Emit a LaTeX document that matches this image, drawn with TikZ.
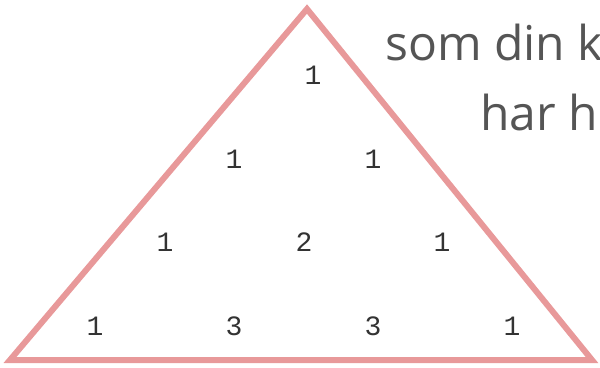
\documentclass[tikz,border=0pt]{standalone}
\usepackage{fontspec}
\setmainfont{Open Sans}
\setmonofont{Liberation Mono}
\usepackage{xcolor}
\definecolor{triedge}{HTML}{E8999A}
\definecolor{numgray}{HTML}{333333}
\definecolor{textgray}{HTML}{555555}

\begin{document}
\begin{tikzpicture}[
    x=1pt, y=-1pt,
    tri/.style={draw=triedge, line width=6pt},
    num/.style={font=\ttfamily\fontsize{28}{28}\selectfont, text=numgray, inner sep=0pt, anchor=base},
    caption/.style={font=\fontsize{48}{48}\selectfont, text=textgray, inner sep=0pt, anchor=base west}
  ]
    \useasboundingbox (0,0) rectangle (600,367);
    \clip (0,0) rectangle (600,367);
    % triangle
    \coordinate (top) at (307,9);
    \coordinate (left) at (10,360);
    \coordinate (right) at (592,360);
    \draw[tri] (top) -- (left) -- (right) -- cycle;
    % rows of numbers
    \node[num] (r1a) at (313,84) {1};
    \node[num] (r2a) at (234,168) {1};
    \node[num] (r2b) at (373,168) {1};
    \node[num] (r3a) at (165,251) {1};
    \node[num] (r3b) at (304,251) {2};
    \node[num] (r3c) at (442,251) {1};
    \node[num] (r4a) at (95,335) {1};
    \node[num] (r4b) at (234,335) {3};
    \node[num] (r4c) at (373,335) {3};
    \node[num] (r4d) at (512,335) {1};
    % text beside the triangle
    \node[caption] (line1) at (385,60) {som din k};
    \node[caption] (line2) at (480,130) {har h};
  \end{tikzpicture}
\end{document}
